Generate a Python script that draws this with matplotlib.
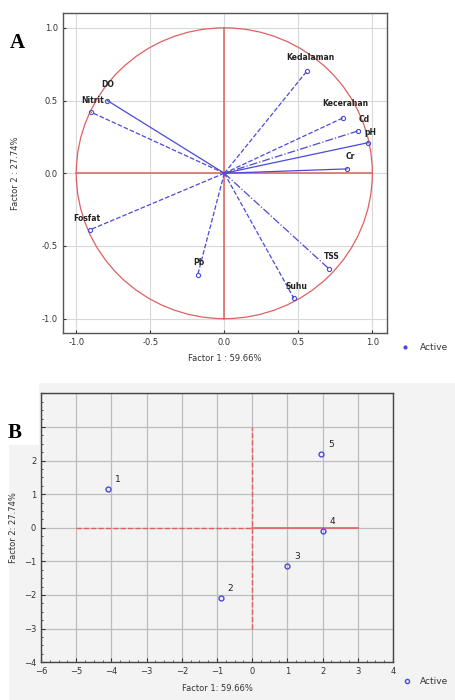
import matplotlib.pyplot as plt
import numpy as np
from matplotlib.patches import Circle, Rectangle

# Panel A: factor loadings (Factor 1 vs Factor 2)
variables = ['Kedalaman', 'Kecerahan', 'Cd', 'pH', 'Cr', 'DO', 'Nitrit',
             'Fosfat', 'Pb', 'Suhu', 'TSS']
load_f1 = [0.56, 0.80, 0.90, 0.97, 0.83, -0.79, -0.90, -0.91, -0.18, 0.47, 0.71]
load_f2 = [0.705, 0.38, 0.29, 0.21, 0.03, 0.50, 0.42, -0.39, -0.70, -0.86, -0.66]
line_styles = ['--', '--', '-.', '-', '-', '-', '--', '--', '--', '--', '-.']

# Panel B: factor scores of stations
stations = ['1', '2', '3', '4', '5']
score_f1 = [-4.1, -0.9, 1.0, 2.0, 1.95]
score_f2 = [1.15, -2.1, -1.15, -0.1, 2.2]

xlabel = 'Factor 1 : 59.66%'
ylabel = 'Factor 2 : 27.74%'

blue = '#4a4ad8'
red = '#e06060'
tick_col = '#333333'

fig = plt.figure(figsize=(4.56, 7.0), dpi=100)
fig.patch.set_facecolor('white')
bg = Rectangle((9 / 456, 0), 1, 1 - 383 / 700, transform=fig.transFigure,
               facecolor='#f3f3f3', edgecolor='none', zorder=-5)
fig.patches.append(bg)

# ---------- panel A ----------
ax = fig.add_axes([0.138, 0.524, 0.711, 0.457])
ax.set_xlim(-1.09, 1.1)
ax.set_ylim(-1.1, 1.1)
ax.set_xticks(np.arange(-1.0, 1.01, 0.5))
ax.set_yticks(np.arange(-1.0, 1.01, 0.5))
ax.set_xticklabels(['-1.0', '-0.5', '0.0', '0.5', '1.0'])
ax.set_yticklabels(['-1.0', '-0.5', '0.0', '0.5', '1.0'])
ax.grid(True, color='#d8d8d8', lw=0.8)
ax.set_axisbelow(True)
ax.add_patch(Circle((0, 0), 1.0, fill=False, ec=red, lw=0.9, zorder=2))
ax.plot([0, 0], [-1, 1], color=red, lw=1.1, zorder=2)
ax.plot([-1, 1], [0, 0], color=red, lw=1.1, zorder=2)

label_offsets = {'Kedalaman': (2, 6), 'Kecerahan': (2, 7), 'Cd': (5, 5), 'pH': (2, 4),
                 'Cr': (2, 6), 'DO': (0, 8), 'Nitrit': (1, 5), 'Fosfat': (-2, 5),
                 'Pb': (1, 6), 'Suhu': (2, 5), 'TSS': (2, 6)}
for name, x, y, ls in zip(variables, load_f1, load_f2, line_styles):
    ax.plot([0, x], [0, y], color=blue, lw=0.9, ls=ls, zorder=3)
    ax.plot(x, y, 'o', ms=3, mfc='none', mec=blue, mew=0.8, zorder=4)
    ax.annotate(name, (x, y), xytext=label_offsets[name], textcoords='offset points',
                ha='center', va='bottom', fontsize=5.5, fontweight='bold',
                color='#222222', zorder=5)

ax.tick_params(labelsize=6, colors=tick_col, length=2, direction='in')
for s in ax.spines.values():
    s.set_color('#555555')
    s.set_linewidth(1.0)
ax.set_xlabel(xlabel, fontsize=6, color=tick_col, labelpad=5)
ax.set_ylabel(ylabel, fontsize=6, color=tick_col, labelpad=16)
ax.plot([1.055], [-0.044], 'o', ms=2, color=blue, transform=ax.transAxes, clip_on=False)
ax.text(1.10, -0.044, 'Active', transform=ax.transAxes, fontsize=6.5,
        color=tick_col, va='center')
fig.text(10 / 456, 1 - 48 / 700, 'A', fontsize=15, fontweight='bold',
         family='Liberation Serif', va='baseline')

# ---------- panel B ----------
bx = fig.add_axes([0.090, 0.054, 0.772, 0.384])
bx.set_facecolor('#f3f3f3')
bx.set_xlim(-6, 4)
bx.set_ylim(-4, 4)
bx.set_xticks(np.arange(-6, 5, 1))
bx.set_yticks(np.arange(-4, 5, 1))
bx.set_xticks(np.arange(-6, 4.01, 0.25), minor=True)
bx.set_yticks(np.arange(-4, 4.01, 0.25), minor=True)
bx.grid(True, which='major', color='#bdbdbd', lw=0.9)
bx.set_axisbelow(True)
bx.plot([-5, 0], [0, 0], color=red, lw=1.0, ls='--', zorder=2)
bx.plot([0, 3], [0, 0], color=red, lw=1.2, zorder=2)
bx.plot([0, 0], [-3, 3], color=red, lw=1.0, ls='--', zorder=2)

for name, x, y in zip(stations, score_f1, score_f2):
    bx.plot(x, y, 'o', ms=3.5, mfc='none', mec=blue, mew=1.0, zorder=4)
    bx.annotate(name, (x, y), xytext=(5, 5), textcoords='offset points',
                fontsize=6.5, color='#222222', zorder=5)

bx.tick_params(which='both', labelsize=6, colors=tick_col, direction='in')
bx.tick_params(which='major', length=3)
bx.tick_params(which='minor', length=1.5)
for s in bx.spines.values():
    s.set_color('#444444')
    s.set_linewidth(1.0)
bx.set_xlabel('Factor 1: 59.66%', fontsize=6, color=tick_col, labelpad=6)
bx.set_ylabel('Factor 2: 27.74%', fontsize=6, color=tick_col, labelpad=4)
bx.plot([1.04], [-0.07], 'o', ms=3, mfc='none', mec=blue, transform=bx.transAxes,
        clip_on=False)
bx.text(1.075, -0.07, 'Active', transform=bx.transAxes, fontsize=6.5,
        color=tick_col, va='center')

# white box holding the panel letter (covers top y tick labels as in the original)
box = Rectangle((0, 1 - 445 / 700), 39 / 456, 62 / 700, transform=fig.transFigure,
                facecolor='white', edgecolor='none', zorder=10)
fig.patches.append(box)
fig.text(8 / 456, 1 - 438 / 700, 'B', fontsize=15, fontweight='bold',
         family='Liberation Serif', va='baseline', zorder=11)

fig.savefig('out.png', dpi=100)
